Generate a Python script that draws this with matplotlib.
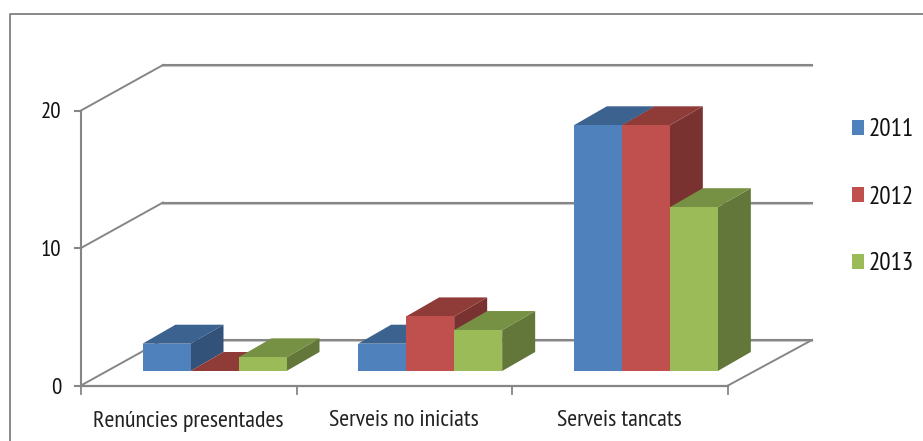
import matplotlib
matplotlib.use('Agg')
import matplotlib.pyplot as plt
from matplotlib.patches import Polygon, Patch

plt.rcParams['font.family'] = ['PT Sans Narrow', 'Liberation Sans', 'DejaVu Sans']

categories = ['Renúncies presentades', 'Serveis no iniciats', 'Serveis tancats']
years = ['2011', '2012', '2013']
values_2011 = [2, 2, 18]
values_2012 = [0, 4, 18]
values_2013 = [1, 3, 12]
yticks = [0, 10, 20]

front_cols = ['#4f81bd', '#c0504d', '#9bbb59']
top_cols = ['#3c628f', '#8f3c39', '#769044']
side_cols = ['#32527a', '#7a3230', '#64773a']

# everything is laid out in image pixels
fig = plt.figure(figsize=(9.23, 4.41), dpi=100)
ax = fig.add_axes([0, 0, 1, 1])
ax.set_xlim(0, 923)
ax.set_ylim(441, 0)
ax.axis('off')

x0, x1 = 81, 728
y0 = 385.5
unit = 13.75
bar_unit = 13.65
wall_dx, wall_dy = 82, -45.5
bar_base = 371
bar_w = 48
bar_dx, bar_dy = 33, -19
grey = '#868686'

# border of the chart area
ax.plot([9.5, 9.5, 923], [441, 13.5, 13.5], color='#808080', lw=1.3)

# back wall gridlines and left wall diagonals
for t in yticks:
    y = y0 - t * unit
    ax.plot([x0 + wall_dx, x1 + wall_dx + 2], [y + wall_dy + 1] * 2, color='#c8c8c8', lw=1.5)
    ax.plot([x0 + wall_dx, x1 + wall_dx + 2], [y + wall_dy] * 2, color=grey, lw=1.5)
    ax.plot([x0, x0 + wall_dx], [y, y + wall_dy], color=grey, lw=1.4)
    ax.plot([x0 - 6, x0], [y, y], color=grey, lw=1.5)
    ax.text(x0 - 20, y + 2.5, str(t), ha='right', va='center', fontsize=16.5, color='#111111')

# floor and axes
ax.plot([x0, x0], [y0, y0 - yticks[-1] * unit], color=grey, lw=1.5)
ax.plot([x0, x1], [y0, y0], color=grey, lw=1.6)
ax.plot([x1, x1 + wall_dx + 2], [y0, y0 + wall_dy], color=grey, lw=1.4)

group_w = (x1 - x0) / len(categories)
for i, cat in enumerate(categories):
    ax.plot([x0 + i * group_w] * 2, [y0, y0 + 8], color=grey, lw=1.3)
    ax.text(x0 + (i + 0.5) * group_w - 0.5, 421, cat, ha='center', va='center', fontsize=17.4, color='#222222')
ax.plot([x1, x1], [y0, y0 + 8], color=grey, lw=1.3)

# bars, left to right so each one hides the side of the previous one
series = [values_2011, values_2012, values_2013]
for i in range(len(categories)):
    start = x0 + i * group_w + 61.5
    for j, vals in enumerate(series):
        l = start + j * bar_w
        r = l + bar_w
        top = bar_base - vals[i] * bar_unit
        ax.add_patch(Polygon([(r, bar_base), (r + bar_dx, bar_base + bar_dy), (r + bar_dx, top + bar_dy), (r, top)],
                             fc=side_cols[j], ec='none', zorder=3))
        ax.add_patch(Polygon([(l, top), (l + bar_dx, top + bar_dy), (r + bar_dx, top + bar_dy), (r, top)],
                             fc=top_cols[j], ec='none', zorder=3))
        ax.add_patch(Polygon([(l, bar_base), (l, top), (r, top), (r, bar_base)],
                             fc=front_cols[j], ec='none', zorder=3))

handles = [Patch(fc=c, ec='none', label=y) for c, y in zip(front_cols, years)]
ax.legend(handles=handles, loc='center left', bbox_to_anchor=(852, 197), bbox_transform=ax.transData,
          frameon=False, fontsize=18, handlelength=0.48, handleheight=0.52, handletextpad=0.2,
          labelspacing=1.76, borderpad=0, borderaxespad=0, labelcolor='#111111')

fig.savefig('out.png', dpi=100)
